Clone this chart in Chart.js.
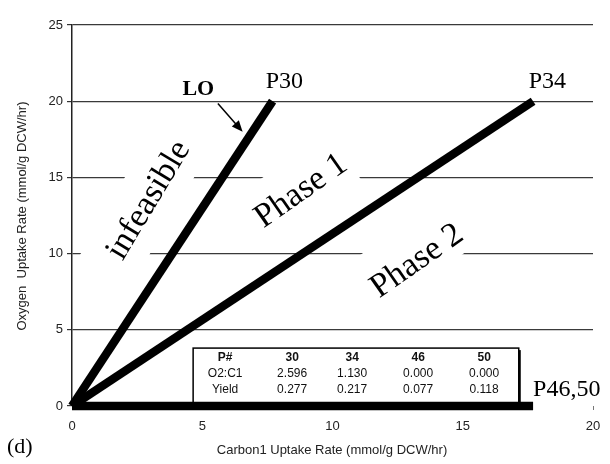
<!DOCTYPE html>
<html>
<head>
<meta charset="utf-8">
<script src="https://cdn.jsdelivr.net/npm/chart.js@4.4.1/dist/chart.umd.min.js"></script>
<style>
  html, body { margin: 0; padding: 0; background: #fff; }
  #wrap { width: 610px; height: 464px; }
</style>
</head>
<body>
<div id="wrap"><canvas id="c" width="610" height="464"></canvas></div>
<script>
// ---- data ----
const pointNames = ['30', '34', '46', '50'];
const o2c1 = [2.596, 1.130, 0.000, 0.000];
const yieldVals = [0.277, 0.217, 0.077, 0.118];

// end points of the three phase lines (carbon uptake, oxygen uptake)
const lineLabels = ['P30', 'P34', 'P46,50'];
const endCarbon = [7.7, 17.7, 17.7];
const endOxygen = [20, 20, 0];

const xTicks = [0, 5, 10, 15, 20];
const yTicks = [0, 5, 10, 15, 20, 25];

const SERIF = '"Liberation Serif", "DejaVu Serif", serif';
const SANS = '"Liberation Sans", Arial, sans-serif';

// rotated white boxes that break the gridlines behind the big labels
const masks = [
    { x: 2.85, y: 13.5, angle: -60, w: 185, h: 60 },
    { x: 8.6, y: 14.2, angle: -35, w: 118, h: 58 },
    { x: 13.0, y: 9.9, angle: -35, w: 128, h: 58 }
];

const bigLabels = [
    { text: 'infeasible', x: 2.95, y: 13.5, angle: -59 },
    { text: 'Phase 1', x: 8.8, y: 14.1, angle: -35 },
    { text: 'Phase 2', x: 13.25, y: 9.5, angle: -35 }
];

const notes = {
    id: 'notes',
    beforeDatasetsDraw(chart) {
        const { ctx, chartArea, scales: { x, y } } = chart;

        // gaps in the gridlines
        ctx.save();
        ctx.beginPath();
        ctx.rect(chartArea.left + 2, chartArea.top - 2, chartArea.width + 4, chartArea.height);
        ctx.clip();
        ctx.fillStyle = '#fff';
        masks.forEach(m => {
            ctx.save();
            ctx.translate(x.getPixelForValue(m.x), y.getPixelForValue(m.y));
            ctx.rotate(m.angle * Math.PI / 180);
            ctx.fillRect(-m.w / 2, -m.h / 2, m.w, m.h);
            ctx.restore();
        });
        ctx.restore();

        // table box
        const bx = x.getPixelForValue(4.65), by = y.getPixelForValue(3.8);
        const bw = x.getPixelForValue(17.15) - bx, bh = y.getPixelForValue(0) - by;
        ctx.save();
        ctx.fillStyle = '#fff';
        ctx.fillRect(bx, by, bw, bh);
        ctx.fillStyle = '#000';
        ctx.fillRect(bx + bw, by + 2, 2, bh);
        ctx.strokeStyle = '#000';
        ctx.lineWidth = 1.5;
        ctx.strokeRect(bx, by, bw, bh);

        const colX = [32, 99, 159, 225, 291];
        const rowY = [10, 26, 42];
        ctx.textAlign = 'center';
        ctx.textBaseline = 'middle';
        ctx.fillStyle = '#111';
        ctx.font = 'bold 12px ' + SANS;
        ctx.fillText('P#', bx + colX[0], by + rowY[0]);
        pointNames.forEach((p, i) => ctx.fillText(p, bx + colX[i + 1], by + rowY[0]));
        ctx.font = '12px ' + SANS;
        ctx.fillText('O2:C1', bx + colX[0], by + rowY[1]);
        o2c1.forEach((v, i) => ctx.fillText(v.toFixed(3), bx + colX[i + 1], by + rowY[1]));
        ctx.fillText('Yield', bx + colX[0], by + rowY[2]);
        yieldVals.forEach((v, i) => ctx.fillText(v.toFixed(3), bx + colX[i + 1], by + rowY[2]));
        ctx.restore();
    },
    afterDatasetsDraw(chart) {
        const { ctx, scales: { x, y } } = chart;
        ctx.save();
        ctx.fillStyle = '#000';
        ctx.textBaseline = 'middle';

        // big rotated region labels
        ctx.font = '34px ' + SERIF;
        ctx.textAlign = 'center';
        bigLabels.forEach(l => {
            ctx.save();
            ctx.translate(x.getPixelForValue(l.x), y.getPixelForValue(l.y));
            ctx.rotate(l.angle * Math.PI / 180);
            ctx.fillText(l.text, 0, 0);
            ctx.restore();
        });

        // end point labels
        ctx.font = '24px ' + SERIF;
        ctx.fillText(lineLabels[0], x.getPixelForValue(8.15), y.getPixelForValue(21.3));
        ctx.fillText(lineLabels[1], x.getPixelForValue(18.25), y.getPixelForValue(21.3));
        ctx.textAlign = 'left';
        ctx.fillText(lineLabels[2], x.getPixelForValue(17.7), y.getPixelForValue(1.1));

        // LO + arrow
        ctx.textAlign = 'center';
        ctx.font = 'bold 22px ' + SERIF;
        ctx.fillText('LO', x.getPixelForValue(4.85), y.getPixelForValue(20.75));
        const ax0 = x.getPixelForValue(5.6), ay0 = y.getPixelForValue(19.85);
        const ax1 = x.getPixelForValue(6.55), ay1 = y.getPixelForValue(18.0);
        const ang = Math.atan2(ay1 - ay0, ax1 - ax0);
        ctx.strokeStyle = '#000';
        ctx.lineWidth = 1.5;
        ctx.beginPath();
        ctx.moveTo(ax0, ay0);
        ctx.lineTo(ax1 - 6 * Math.cos(ang), ay1 - 6 * Math.sin(ang));
        ctx.stroke();
        ctx.beginPath();
        ctx.moveTo(ax1, ay1);
        ctx.lineTo(ax1 - 12 * Math.cos(ang - 0.4), ay1 - 12 * Math.sin(ang - 0.4));
        ctx.lineTo(ax1 - 12 * Math.cos(ang + 0.4), ay1 - 12 * Math.sin(ang + 0.4));
        ctx.closePath();
        ctx.fill();

        // axis titles
        ctx.fillStyle = '#222';
        ctx.font = '13px ' + SANS;
        ctx.fillText('Carbon1 Uptake Rate (mmol/g DCW/hr)', 332, 450);
        ctx.save();
        ctx.translate(22, 216);
        ctx.rotate(-Math.PI / 2);
        ctx.fillText('Oxygen  Uptake Rate (mmol/g DCW/hr)', 0, 0);
        ctx.restore();

        // panel letter
        ctx.fillStyle = '#000';
        ctx.font = '22px ' + SERIF;
        ctx.textAlign = 'left';
        ctx.fillText('(d)', 7, 447);
        ctx.restore();
    }
};

const datasets = endCarbon.map((cx, i) => ({
    label: lineLabels[i],
    data: [{ x: 0, y: 0 }, { x: cx, y: endOxygen[i] }],
    showLine: true,
    borderColor: '#000',
    backgroundColor: '#000',
    borderWidth: 8.5,
    borderCapStyle: 'butt',
    pointRadius: 0,
    clip: false
}));

new Chart(document.getElementById('c'), {
    type: 'scatter',
    data: { datasets },
    options: {
        responsive: false,
        animation: false,
        events: [],
        layout: { padding: { left: 0, top: 25, right: 17, bottom: 0 } },
        plugins: { legend: { display: false }, tooltip: { enabled: false } },
        scales: {
            x: {
                type: 'linear', min: 0, max: 20,
                afterBuildTicks: s => { s.ticks = xTicks.map(v => ({ value: v })); },
                afterFit: s => { s.height = 58; },
                ticks: { color: '#222', font: { family: SANS, size: 13 }, padding: 9 },
                grid: { drawOnChartArea: false, tickLength: 4, color: '#777' },
                border: { display: false }
            },
            y: {
                type: 'linear', min: 0, max: 25,
                afterBuildTicks: s => { s.ticks = yTicks.map(v => ({ value: v })); },
                afterFit: s => { s.width = 72; },
                ticks: { color: '#222', font: { family: SANS, size: 13 }, padding: 4 },
                grid: {
                    color: c => (c.tick && c.tick.value === 0) ? 'rgba(0,0,0,0)' : '#3a3a3a',
                    tickColor: '#333',
                    lineWidth: 1.2,
                    tickLength: 5
                },
                border: { color: '#222', width: 1.5 }
            }
        }
    },
    plugins: [notes]
});
</script>
</body>
</html>
